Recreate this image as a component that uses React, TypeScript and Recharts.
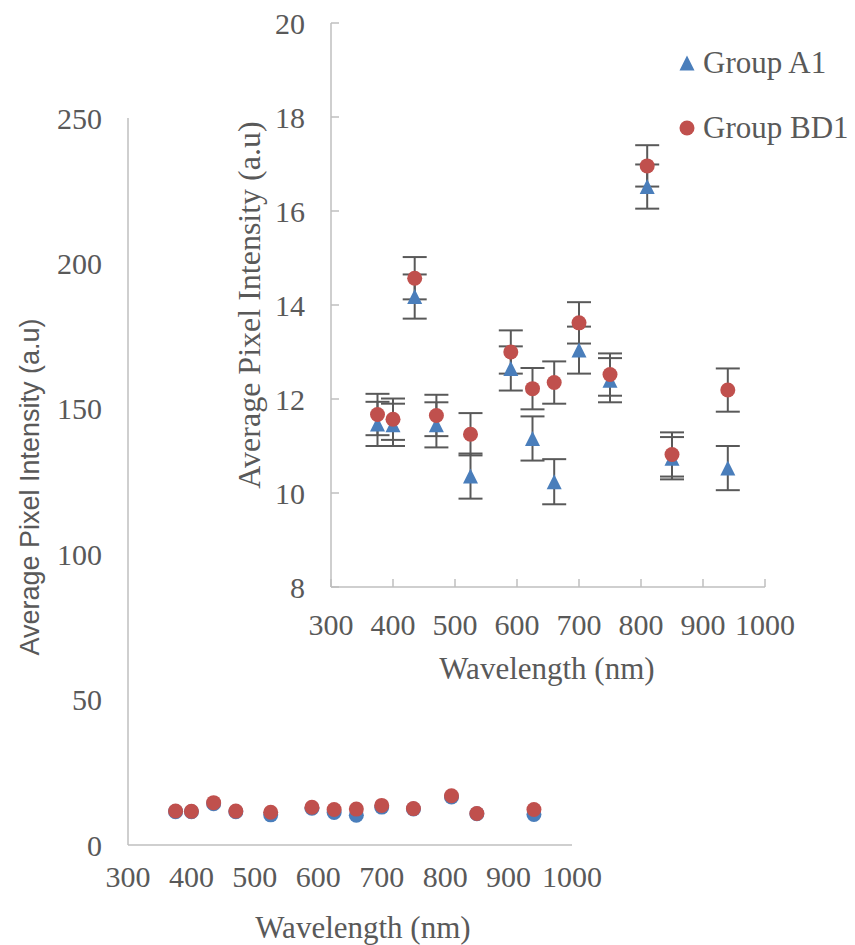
import { ScatterChart, Scatter, XAxis, YAxis, ErrorBar, Legend } from 'recharts'

// wavelengths of the LEDs, nm
const wavelengths = [375, 400, 435, 470, 525, 590, 625, 660, 700, 750, 810, 850, 940]
const groupA1 = [11.47, 11.45, 14.18, 11.45, 10.36, 12.65, 11.16, 10.24, 13.04, 12.4, 16.52, 10.74, 10.53]
const groupA1Err = [0.47, 0.45, 0.47, 0.48, 0.48, 0.47, 0.47, 0.48, 0.5, 0.47, 0.47, 0.45, 0.47]
const groupBD1 = [11.67, 11.57, 14.57, 11.65, 11.25, 13.0, 12.22, 12.35, 13.62, 12.52, 16.96, 10.82, 12.19]
const groupBD1Err = [0.44, 0.44, 0.45, 0.44, 0.45, 0.46, 0.44, 0.45, 0.44, 0.45, 0.44, 0.47, 0.46]

const xTicks = [300, 400, 500, 600, 700, 800, 900, 1000]
const outerYTicks = [0, 50, 100, 150, 200, 250]
const insetYTicks = [8, 10, 12, 14, 16, 18, 20]

const seriesA1 = wavelengths.map((wl, i) => ({ wl, v: groupA1[i], err: groupA1Err[i] }))
const seriesBD1 = wavelengths.map((wl, i) => ({ wl, v: groupBD1[i], err: groupBD1Err[i] }))

const BLUE = '#4A7EBB'
const RED = '#C0504D'
const TEXT = '#595959'
const AXIS = '#BFBFBF'
const SERIF = '"Liberation Serif", "Times New Roman", serif'
const SANS = '"Liberation Sans", Arial, sans-serif'

const tickStyle = { fill: TEXT, fontSize: 30, fontFamily: SERIF }

const Triangle = (props: any) => {
  const { cx, cy } = props
  return <polygon points={`${cx},${cy - 7.5} ${cx + 7.5},${cy + 7.5} ${cx - 7.5},${cy + 7.5}`} fill={BLUE} />
}
const BlueDot = (props: any) => <circle cx={props.cx} cy={props.cy} r={7.5} fill={BLUE} />
const RedDot = (props: any) => <circle cx={props.cx} cy={props.cy} r={7.5} fill={RED} />

const title = (x: number, y: number, text: string, opts: { angle?: number; font?: string; size?: number } = {}) => () => (
  <text
    x={x}
    y={y}
    transform={opts.angle ? `rotate(${opts.angle} ${x} ${y})` : undefined}
    textAnchor="middle"
    dominantBaseline="central"
    fill={TEXT}
    fontFamily={opts.font ?? SERIF}
    fontSize={opts.size ?? 31}
  >
    {text}
  </text>
)

const LegendBox = () => (
  <div style={{ fontFamily: SERIF, fontSize: 31, color: TEXT }}>
    <div style={{ display: 'flex', alignItems: 'center', height: 65 }}>
      <svg width={18} height={18}>
        <polygon points="9,1.5 16.5,16.5 1.5,16.5" fill={BLUE} />
      </svg>
      <span style={{ marginLeft: 7 }}>Group A1</span>
    </div>
    <div style={{ display: 'flex', alignItems: 'center', height: 65 }}>
      <svg width={18} height={18}>
        <circle cx={9} cy={9} r={7.5} fill={RED} />
      </svg>
      <span style={{ marginLeft: 7 }}>Group BD1</span>
    </div>
  </div>
)

export default function App() {
  return (
    <div style={{ position: 'absolute', left: 0, top: 0, width: 855, height: 945, background: '#fff' }}>
      {/* full-range chart underneath */}
      <div style={{ position: 'absolute', left: 0, top: 0 }}>
        <ScatterChart width={855} height={945} margin={{ top: 118, right: 283, bottom: 40, left: 68 }}>
          <XAxis
            type="number"
            dataKey="wl"
            domain={[300, 1000]}
            ticks={xTicks}
            height={60}
            tickLine={false}
            tickSize={0}
            tickMargin={21}
            axisLine={{ stroke: AXIS, strokeWidth: 1.5 }}
            tick={tickStyle}
            label={{ content: title(363, 927, 'Wavelength (nm)') }}
          />
          <YAxis
            type="number"
            dataKey="v"
            domain={[0, 250]}
            ticks={outerYTicks}
            width={60}
            tickLine={false}
            tickSize={0}
            tickMargin={26}
            axisLine={{ stroke: AXIS, strokeWidth: 1.5 }}
            tick={tickStyle}
            label={{ content: title(30, 487, 'Average Pixel Intensity (a.u)', { angle: -90, font: SANS, size: 27 }) }}
          />
          <Scatter name="Group A1" data={seriesA1} shape={BlueDot} isAnimationActive={false} />
          <Scatter name="Group BD1" data={seriesBD1} shape={RedDot} isAnimationActive={false} />
        </ScatterChart>
      </div>
      {/* zoomed inset */}
      <div style={{ position: 'absolute', left: 0, top: 0 }}>
        <ScatterChart width={855} height={945} margin={{ top: 23, right: 90, bottom: 298, left: 271 }}>
          <XAxis
            type="number"
            dataKey="wl"
            domain={[300, 1000]}
            ticks={xTicks}
            height={60}
            tickSize={-8}
            tickMargin={35}
            tickLine={{ stroke: AXIS, strokeWidth: 1.5 }}
            axisLine={{ stroke: AXIS, strokeWidth: 1.5 }}
            tick={tickStyle}
            label={{ content: title(547, 668, 'Wavelength (nm)') }}
          />
          <YAxis
            type="number"
            dataKey="v"
            domain={[8, 20]}
            ticks={insetYTicks}
            width={60}
            tickSize={-8}
            tickMargin={34}
            tickLine={{ stroke: AXIS, strokeWidth: 1.5 }}
            axisLine={{ stroke: AXIS, strokeWidth: 1.5 }}
            tick={tickStyle}
            label={{ content: title(249, 305, 'Average Pixel Intensity (a.u)', { angle: -90, size: 32 }) }}
          />
          <Legend
            layout="vertical"
            align="center"
            verticalAlign="middle"
            content={LegendBox}
            wrapperStyle={{ left: 678, top: 30, width: 177 }}
          />
          <Scatter name="Group A1" data={seriesA1} shape={Triangle} isAnimationActive={false}>
            <ErrorBar dataKey="err" direction="y" width={12} strokeWidth={2} stroke="#595959" />
          </Scatter>
          <Scatter name="Group BD1" data={seriesBD1} shape={RedDot} isAnimationActive={false}>
            <ErrorBar dataKey="err" direction="y" width={12} strokeWidth={2} stroke="#595959" />
          </Scatter>
        </ScatterChart>
      </div>
    </div>
  )
}
